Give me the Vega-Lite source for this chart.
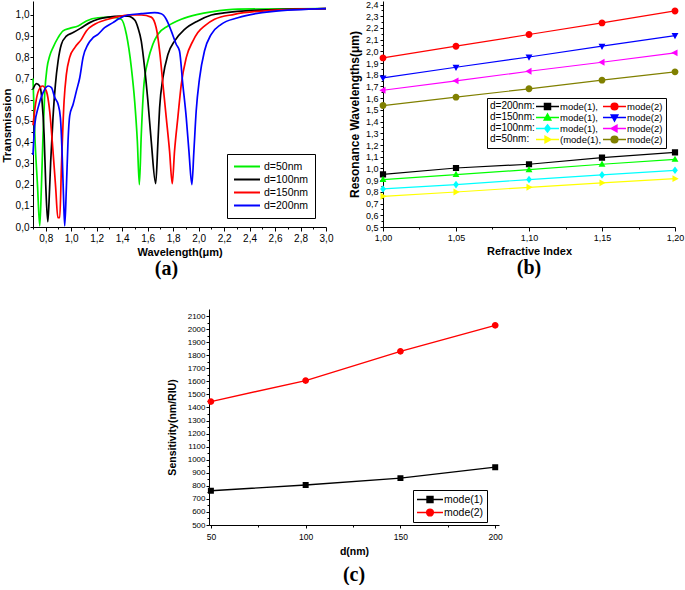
{
  "$schema": "https://vega.github.io/schema/vega-lite/v6.json",
  "padding": {"left": 1, "top": 0, "right": 0, "bottom": 0},
  "background": "white",
  "config": {
    "view": {"stroke": null},
    "axis": {"labelFont": "Liberation Sans", "titleFont": "Liberation Sans", "labelColor": "#000", "titleColor": "#000", "domainColor": "#000", "tickColor": "#000", "grid": false, "titleFontWeight": "bold", "labelFontSize": 9, "titleFontSize": 11, "tickSize": 4, "labelPadding": 2, "labelFlush": false, "labelOverlap": false},
    "legend": {"labelFont": "Liberation Sans", "titleFont": "Liberation Sans", "labelColor": "#000", "titleColor": "#000"},
    "title": {"font": "Liberation Serif", "fontSize": 20, "fontWeight": "bold", "color": "#000"}
  },
  "datasets": {
    "trans": [
      {"d":"d=50nm","wl":0.70,"T":0.70},{"d":"d=50nm","wl":0.714,"T":0.44},{"d":"d=50nm","wl":0.735,"T":0.20},{"d":"d=50nm","wl":0.753,"T":0.005},{"d":"d=50nm","wl":0.766,"T":0.19},{"d":"d=50nm","wl":0.779,"T":0.44},{"d":"d=50nm","wl":0.792,"T":0.63},{"d":"d=50nm","wl":0.81,"T":0.75},{"d":"d=50nm","wl":0.831,"T":0.807},{"d":"d=50nm","wl":0.857,"T":0.846},{"d":"d=50nm","wl":0.897,"T":0.893},{"d":"d=50nm","wl":0.936,"T":0.925},{"d":"d=50nm","wl":0.988,"T":0.937},{"d":"d=50nm","wl":1.054,"T":0.948},{"d":"d=50nm","wl":1.119,"T":0.972},{"d":"d=50nm","wl":1.21,"T":0.987},{"d":"d=50nm","wl":1.315,"T":0.99},{"d":"d=50nm","wl":1.393,"T":0.98},{"d":"d=50nm","wl":1.433,"T":0.909},{"d":"d=50nm","wl":1.472,"T":0.752},{"d":"d=50nm","wl":1.498,"T":0.594},{"d":"d=50nm","wl":1.519,"T":0.406},{"d":"d=50nm","wl":1.535,"T":0.20},{"d":"d=50nm","wl":1.55,"T":0.437},{"d":"d=50nm","wl":1.571,"T":0.673},{"d":"d=50nm","wl":1.602,"T":0.783},{"d":"d=50nm","wl":1.641,"T":0.862},{"d":"d=50nm","wl":1.681,"T":0.909},{"d":"d=50nm","wl":1.759,"T":0.948},{"d":"d=50nm","wl":1.864,"T":0.98},{"d":"d=50nm","wl":1.994,"T":1.003},{"d":"d=50nm","wl":2.1,"T":1.015},{"d":"d=50nm","wl":2.31,"T":1.028},{"d":"d=50nm","wl":3.0,"T":1.03},
      {"d":"d=100nm","wl":0.70,"T":0.65},{"d":"d=100nm","wl":0.727,"T":0.676},{"d":"d=100nm","wl":0.753,"T":0.665},{"d":"d=100nm","wl":0.771,"T":0.594},{"d":"d=100nm","wl":0.787,"T":0.437},{"d":"d=100nm","wl":0.80,"T":0.20},{"d":"d=100nm","wl":0.816,"T":0.025},{"d":"d=100nm","wl":0.826,"T":0.12},{"d":"d=100nm","wl":0.839,"T":0.31},{"d":"d=100nm","wl":0.857,"T":0.516},{"d":"d=100nm","wl":0.876,"T":0.673},{"d":"d=100nm","wl":0.897,"T":0.783},{"d":"d=100nm","wl":0.923,"T":0.862},{"d":"d=100nm","wl":0.962,"T":0.90},{"d":"d=100nm","wl":1.015,"T":0.917},{"d":"d=100nm","wl":1.08,"T":0.94},{"d":"d=100nm","wl":1.145,"T":0.964},{"d":"d=100nm","wl":1.21,"T":0.98},{"d":"d=100nm","wl":1.289,"T":0.99},{"d":"d=100nm","wl":1.393,"T":0.995},{"d":"d=100nm","wl":1.445,"T":0.995},{"d":"d=100nm","wl":1.50,"T":0.975},{"d":"d=100nm","wl":1.524,"T":0.94},{"d":"d=100nm","wl":1.55,"T":0.877},{"d":"d=100nm","wl":1.576,"T":0.752},{"d":"d=100nm","wl":1.602,"T":0.594},{"d":"d=100nm","wl":1.628,"T":0.406},{"d":"d=100nm","wl":1.663,"T":0.205},{"d":"d=100nm","wl":1.681,"T":0.406},{"d":"d=100nm","wl":1.694,"T":0.563},{"d":"d=100nm","wl":1.72,"T":0.704},{"d":"d=100nm","wl":1.759,"T":0.814},{"d":"d=100nm","wl":1.811,"T":0.877},{"d":"d=100nm","wl":1.89,"T":0.932},{"d":"d=100nm","wl":1.994,"T":0.972},{"d":"d=100nm","wl":2.1,"T":1.0},{"d":"d=100nm","wl":2.2,"T":1.01},{"d":"d=100nm","wl":2.44,"T":1.022},{"d":"d=100nm","wl":3.0,"T":1.03},
      {"d":"d=150nm","wl":0.70,"T":0.48},{"d":"d=150nm","wl":0.72,"T":0.58},{"d":"d=150nm","wl":0.745,"T":0.645},{"d":"d=150nm","wl":0.775,"T":0.665},{"d":"d=150nm","wl":0.805,"T":0.641},{"d":"d=150nm","wl":0.831,"T":0.547},{"d":"d=150nm","wl":0.857,"T":0.358},{"d":"d=150nm","wl":0.878,"T":0.186},{"d":"d=150nm","wl":0.895,"T":0.044},{"d":"d=150nm","wl":0.91,"T":0.044},{"d":"d=150nm","wl":0.923,"T":0.28},{"d":"d=150nm","wl":0.944,"T":0.594},{"d":"d=150nm","wl":0.962,"T":0.72},{"d":"d=150nm","wl":0.988,"T":0.80},{"d":"d=150nm","wl":1.028,"T":0.846},{"d":"d=150nm","wl":1.08,"T":0.885},{"d":"d=150nm","wl":1.119,"T":0.925},{"d":"d=150nm","wl":1.184,"T":0.956},{"d":"d=150nm","wl":1.289,"T":0.98},{"d":"d=150nm","wl":1.367,"T":0.992},{"d":"d=150nm","wl":1.45,"T":1.0},{"d":"d=150nm","wl":1.55,"T":1.0},{"d":"d=150nm","wl":1.628,"T":0.99},{"d":"d=150nm","wl":1.667,"T":0.94},{"d":"d=150nm","wl":1.694,"T":0.83},{"d":"d=150nm","wl":1.72,"T":0.673},{"d":"d=150nm","wl":1.746,"T":0.516},{"d":"d=150nm","wl":1.772,"T":0.358},{"d":"d=150nm","wl":1.793,"T":0.204},{"d":"d=150nm","wl":1.811,"T":0.358},{"d":"d=150nm","wl":1.837,"T":0.516},{"d":"d=150nm","wl":1.864,"T":0.673},{"d":"d=150nm","wl":1.903,"T":0.799},{"d":"d=150nm","wl":1.955,"T":0.877},{"d":"d=150nm","wl":1.994,"T":0.917},{"d":"d=150nm","wl":2.05,"T":0.95},{"d":"d=150nm","wl":2.125,"T":0.98},{"d":"d=150nm","wl":2.28,"T":1.003},{"d":"d=150nm","wl":2.57,"T":1.022},{"d":"d=150nm","wl":3.0,"T":1.03},
      {"d":"d=200nm","wl":0.70,"T":0.34},{"d":"d=200nm","wl":0.714,"T":0.484},{"d":"d=200nm","wl":0.74,"T":0.563},{"d":"d=200nm","wl":0.779,"T":0.634},{"d":"d=200nm","wl":0.818,"T":0.665},{"d":"d=200nm","wl":0.845,"T":0.657},{"d":"d=200nm","wl":0.871,"T":0.61},{"d":"d=200nm","wl":0.897,"T":0.579},{"d":"d=200nm","wl":0.915,"T":0.516},{"d":"d=200nm","wl":0.928,"T":0.358},{"d":"d=200nm","wl":0.939,"T":0.154},{"d":"d=200nm","wl":0.949,"T":0.005},{"d":"d=200nm","wl":0.962,"T":0.186},{"d":"d=200nm","wl":0.975,"T":0.406},{"d":"d=200nm","wl":0.988,"T":0.524},{"d":"d=200nm","wl":1.015,"T":0.579},{"d":"d=200nm","wl":1.041,"T":0.642},{"d":"d=200nm","wl":1.067,"T":0.704},{"d":"d=200nm","wl":1.093,"T":0.80},{"d":"d=200nm","wl":1.132,"T":0.862},{"d":"d=200nm","wl":1.171,"T":0.893},{"d":"d=200nm","wl":1.21,"T":0.909},{"d":"d=200nm","wl":1.262,"T":0.94},{"d":"d=200nm","wl":1.328,"T":0.964},{"d":"d=200nm","wl":1.367,"T":0.98},{"d":"d=200nm","wl":1.445,"T":1.0},{"d":"d=200nm","wl":1.55,"T":1.006},{"d":"d=200nm","wl":1.655,"T":1.011},{"d":"d=200nm","wl":1.707,"T":1.006},{"d":"d=200nm","wl":1.746,"T":0.98},{"d":"d=200nm","wl":1.785,"T":0.925},{"d":"d=200nm","wl":1.824,"T":0.862},{"d":"d=200nm","wl":1.85,"T":0.83},{"d":"d=200nm","wl":1.876,"T":0.673},{"d":"d=200nm","wl":1.903,"T":0.516},{"d":"d=200nm","wl":1.924,"T":0.358},{"d":"d=200nm","wl":1.947,"T":0.20},{"d":"d=200nm","wl":1.963,"T":0.358},{"d":"d=200nm","wl":1.981,"T":0.547},{"d":"d=200nm","wl":2.007,"T":0.70},{"d":"d=200nm","wl":2.046,"T":0.83},{"d":"d=200nm","wl":2.099,"T":0.909},{"d":"d=200nm","wl":2.177,"T":0.956},{"d":"d=200nm","wl":2.308,"T":0.987},{"d":"d=200nm","wl":2.569,"T":1.016},{"d":"d=200nm","wl":3.0,"T":1.03}
    ],
    "res": [
      {"s":"d=200nm mode(1)","n":1.00,"w":0.950},{"s":"d=200nm mode(1)","n":1.05,"w":1.004},{"s":"d=200nm mode(1)","n":1.10,"w":1.036},{"s":"d=200nm mode(1)","n":1.15,"w":1.093},{"s":"d=200nm mode(1)","n":1.20,"w":1.138},
      {"s":"d=200nm mode(2)","n":1.00,"w":1.944},{"s":"d=200nm mode(2)","n":1.05,"w":2.044},{"s":"d=200nm mode(2)","n":1.10,"w":2.144},{"s":"d=200nm mode(2)","n":1.15,"w":2.243},{"s":"d=200nm mode(2)","n":1.20,"w":2.345},
      {"s":"d=150nm mode(1)","n":1.00,"w":0.905},{"s":"d=150nm mode(1)","n":1.05,"w":0.948},{"s":"d=150nm mode(1)","n":1.10,"w":0.990},{"s":"d=150nm mode(1)","n":1.15,"w":1.036},{"s":"d=150nm mode(1)","n":1.20,"w":1.078},
      {"s":"d=150nm mode(2)","n":1.00,"w":1.773},{"s":"d=150nm mode(2)","n":1.05,"w":1.864},{"s":"d=150nm mode(2)","n":1.10,"w":1.952},{"s":"d=150nm mode(2)","n":1.15,"w":2.044},{"s":"d=150nm mode(2)","n":1.20,"w":2.135},
      {"s":"d=100nm mode(1)","n":1.00,"w":0.825},{"s":"d=100nm mode(1)","n":1.05,"w":0.862},{"s":"d=100nm mode(1)","n":1.10,"w":0.905},{"s":"d=100nm mode(1)","n":1.15,"w":0.945},{"s":"d=100nm mode(1)","n":1.20,"w":0.984},
      {"s":"d=100nm mode(2)","n":1.00,"w":1.668},{"s":"d=100nm mode(2)","n":1.05,"w":1.748},{"s":"d=100nm mode(2)","n":1.10,"w":1.830},{"s":"d=100nm mode(2)","n":1.15,"w":1.907},{"s":"d=100nm mode(2)","n":1.20,"w":1.987},
      {"s":"d=50nm mode(1)","n":1.00,"w":0.762},{"s":"d=50nm mode(1)","n":1.05,"w":0.799},{"s":"d=50nm mode(1)","n":1.10,"w":0.839},{"s":"d=50nm mode(1)","n":1.15,"w":0.877},{"s":"d=50nm mode(1)","n":1.20,"w":0.913},
      {"s":"d=50nm mode(2)","n":1.00,"w":1.537},{"s":"d=50nm mode(2)","n":1.05,"w":1.609},{"s":"d=50nm mode(2)","n":1.10,"w":1.680},{"s":"d=50nm mode(2)","n":1.15,"w":1.754},{"s":"d=50nm mode(2)","n":1.20,"w":1.825}
    ],
    "sens": [
      {"m":"mode(1)","d":50,"S":762},{"m":"mode(1)","d":100,"S":806},{"m":"mode(1)","d":150,"S":859},{"m":"mode(1)","d":200,"S":943},
      {"m":"mode(2)","d":50,"S":1445},{"m":"mode(2)","d":100,"S":1606},{"m":"mode(2)","d":150,"S":1830},{"m":"mode(2)","d":200,"S":2029}
    ],
    "blank": [{"k": 0}]
  },
  "spacing": 30,
  "resolve": {"scale": {"color": "independent", "shape": "independent", "stroke": "independent"}, "legend": {"color": "independent", "shape": "independent", "stroke": "independent"}},
  "vconcat": [
    {
      "spacing": 57,
      "bounds": "flush",
      "resolve": {"scale": {"color": "independent", "shape": "independent", "stroke": "independent"}, "legend": {"color": "independent", "shape": "independent", "stroke": "independent"}},
      "hconcat": [
        {
          "width": 293, "height": 226,
          "title": {"text": "(a)", "orient": "bottom", "offset": 2, "dx": -13},
          "data": {"name": "trans"},
          "layer": [
            {
              "mark": {"type": "line", "strokeWidth": 1.7, "interpolate": "monotone"},
              "encoding": {
                "x": {"field": "wl", "type": "quantitative", "scale": {"domain": [0.7, 3.0], "nice": false, "zero": false},
                  "axis": {"orient": "bottom", "title": "Wavelength(μm)", "values": [0.8,1.0,1.2,1.4,1.6,1.8,2.0,2.2,2.4,2.6,2.8,3.0], "labelExpr": "replace(format(datum.value, '.1f'), '.', ',')", "labelFontSize": 10, "tickSize": 4, "titlePadding": 3}},
                "y": {"field": "T", "type": "quantitative", "scale": {"domain": [0, 1.066], "nice": false, "zero": false},
                  "axis": {"orient": "left", "title": "Transmission", "values": [0,0.1,0.2,0.3,0.4,0.5,0.6,0.7,0.8,0.9,1.0], "labelExpr": "replace(format(datum.value, '.1f'), '.', ',')", "labelFontSize": 10, "tickSize": 3, "labelPadding": 1, "titlePadding": 3, "titleFontSize": 11.5, "titleY": 124}},
                "color": {"field": "d", "type": "nominal", "scale": {"domain": ["d=50nm","d=100nm","d=150nm","d=200nm"], "range": ["#00ee00","#000000","#ff0000","#0000ff"]},
                  "legend": {"title": null, "orient": "none", "legendX": 194, "legendY": 153, "strokeColor": "#000", "padding": 6, "symbolType": "stroke", "symbolSize": 676, "symbolStrokeWidth": 2, "labelFontSize": 10.5, "labelOffset": 3, "clipHeight": 13, "rowPadding": 0}}
              }
            },
            {
              "mark": {"type": "point", "opacity": 0},
              "encoding": {
                "x": {"field": "wl", "type": "quantitative", "scale": {"domain": [0.7, 3.0], "nice": false, "zero": false},
                  "axis": {"orient": "bottom", "title": null, "labels": false, "domain": false, "tickSize": 2, "values": [0.7,0.9,1.1,1.3,1.5,1.7,1.9,2.1,2.3,2.5,2.7,2.9]}},
                "y": {"field": "T", "type": "quantitative", "scale": {"domain": [0, 1.066], "nice": false, "zero": false},
                  "axis": {"orient": "left", "title": null, "labels": false, "domain": false, "tickSize": 2, "values": [0.05,0.15,0.25,0.35,0.45,0.55,0.65,0.75,0.85,0.95]}}
              }
            }
          ],
          "resolve": {"axis": {"x": "independent", "y": "independent"}}
        },
        {
          "width": 292, "height": 226,
          "title": {"text": "(b)", "orient": "bottom", "offset": 2},
          "data": {"name": "res"},
          "layer": [
            {
              "mark": {"type": "line", "strokeWidth": 1.2},
              "encoding": {
                "x": {"field": "n", "type": "quantitative", "scale": {"domain": [1.0, 1.2], "nice": false, "zero": false},
                  "axis": {"orient": "bottom", "title": "Refractive Index", "values": [1.0,1.05,1.1,1.15,1.2], "labelExpr": "replace(format(datum.value, '.2f'), '.', ',')", "tickSize": 4, "titlePadding": 3}},
                "y": {"field": "w", "type": "quantitative", "scale": {"domain": [0.5, 2.43], "nice": false, "zero": false},
                  "axis": {"orient": "left", "title": "Resonance Wavelengths(μm)", "values": [0.5,0.6,0.7,0.8,0.9,1.0,1.1,1.2,1.3,1.4,1.5,1.6,1.7,1.8,1.9,2.0,2.1,2.2,2.3,2.4], "labelExpr": "replace(format(datum.value, '.1f'), '.', ',')", "tickSize": 3, "labelPadding": 2, "titlePadding": 4, "titleFontSize": 12}},
                "color": {"field": "s", "type": "nominal", "scale": {"domain": ["d=200nm mode(1)","d=150nm mode(1)","d=100nm mode(1)","d=50nm mode(1)","d=200nm mode(2)","d=150nm mode(2)","d=100nm mode(2)","d=50nm mode(2)"], "range": ["#000000","#00ff00","#00ffff","#ffff00","#ff0000","#0000ff","#ff00ff","#808000"]},
                  "legend": {"title": ["d=200nm:","d=150nm:","d=100nm:","d=50nm:"], "titleOrient": "left", "titleFontSize": 10, "titleFontWeight": "normal", "titleLineHeight": 11, "titleAnchor": "start", "titleBaseline": "top", "titlePadding": 0, "orient": "none", "legendX": 104, "legendY": 97, "strokeColor": "#000", "padding": 3, "columns": 2, "columnPadding": 0, "rowPadding": 0, "symbolSize": 529, "symbolStrokeWidth": 1.3, "clipHeight": 11, "labelFontSize": 9.5, "labelOffset": 0,
                    "labelExpr": "datum.index == 3 ? '(mode(1),' : (datum.index < 4 ? 'mode(1),' : 'mode(2)')"}}
              }
            },
            {
              "mark": {"type": "point", "filled": true, "size": 529, "opacity": 1, "strokeWidth": 0},
              "encoding": {
                "x": {"field": "n", "type": "quantitative", "axis": null},
                "y": {"field": "w", "type": "quantitative", "axis": null},
                "color": {"field": "s", "type": "nominal"},
                "stroke": {"field": "s", "type": "nominal", "scale": {"domain": ["d=200nm mode(1)","d=150nm mode(1)","d=100nm mode(1)","d=50nm mode(1)","d=200nm mode(2)","d=150nm mode(2)","d=100nm mode(2)","d=50nm mode(2)"], "range": ["#000000","#00ff00","#00ffff","#ffff00","#ff0000","#0000ff","#ff00ff","#808000"]}},
                "shape": {"field": "s", "type": "nominal", "scale": {"domain": ["d=200nm mode(1)","d=150nm mode(1)","d=100nm mode(1)","d=50nm mode(1)","d=200nm mode(2)","d=150nm mode(2)","d=100nm mode(2)","d=50nm mode(2)"], "range": ["M-1,0H1M-0.27,-0.27H0.27V0.27H-0.27Z","M-1,0H1M0,-0.32L0.3,0.22H-0.3Z","M-1,0H1M0,-0.33L0.25,0L0,0.33L-0.25,0Z","M-1,0H1M0.32,0L-0.22,-0.3V0.3Z","M-1,0H1M0.3,0A0.3,0.3,0,1,1,-0.3,0A0.3,0.3,0,1,1,0.3,0Z","M-1,0H1M0,0.32L0.3,-0.22H-0.3Z","M-1,0H1M-0.32,0L0.22,-0.3V0.3Z","M-1,0H1M0.3,0A0.3,0.3,0,1,1,-0.3,0A0.3,0.3,0,1,1,0.3,0Z"]}}
              }
            },
            {
              "mark": {"type": "point", "opacity": 0},
              "encoding": {
                "x": {"field": "n", "type": "quantitative",
                  "axis": {"orient": "bottom", "title": null, "labels": false, "domain": false, "tickSize": 2, "values": [1.025,1.075,1.125,1.175]}},
                "y": {"field": "w", "type": "quantitative",
                  "axis": {"orient": "left", "title": null, "labels": false, "domain": false, "tickSize": 2, "values": [0.55,0.65,0.75,0.85,0.95,1.05,1.15,1.25,1.35,1.45,1.55,1.65,1.75,1.85,1.95,2.05,2.15,2.25,2.35]}}
              }
            }
          ],
          "resolve": {"axis": {"x": "independent", "y": "independent"}}
        }
      ]
    },
    {
      "spacing": 0,
      "bounds": "flush",
      "resolve": {"scale": {"color": "independent", "shape": "independent", "stroke": "independent"}, "legend": {"color": "independent", "shape": "independent", "stroke": "independent"}},
      "hconcat": [
        {
          "width": 176, "height": 10,
          "view": {"fill": "white", "stroke": null},
          "data": {"name": "blank"},
          "mark": {"type": "point", "opacity": 0, "size": 0}
        },
        {
          "width": 290, "height": 216,
          "title": {"text": "(c)", "orient": "bottom", "offset": 8},
          "data": {"name": "sens"},
          "layer": [
            {
              "mark": {"type": "line", "strokeWidth": 1.4},
              "encoding": {
                "x": {"field": "d", "type": "quantitative", "scale": {"domain": [49, 202], "nice": false, "zero": false},
                  "axis": {"orient": "bottom", "title": "d(nm)", "values": [50,100,150,200], "labelFontSize": 8.5, "tickSize": 3, "labelPadding": 4, "titlePadding": 6, "titleFontSize": 10.5}},
                "y": {"field": "S", "type": "quantitative", "scale": {"domain": [500, 2154], "nice": false, "zero": false},
                  "axis": {"orient": "left", "title": "Sensitivity(nm/RIU)", "format": "d", "values": [500,600,700,800,900,1000,1100,1200,1300,1400,1500,1600,1700,1800,1900,2000,2100], "labelFontSize": 8, "tickSize": 3, "labelPadding": 1, "titlePadding": 10, "titleFontSize": 10.5, "titleY": 118}},
                "color": {"field": "m", "type": "nominal", "scale": {"domain": ["mode(1)","mode(2)"], "range": ["#000000","#ff0000"]},
                  "legend": {"title": null, "orient": "none", "legendX": 204, "legendY": 181, "strokeColor": "#000", "padding": 3, "symbolSize": 676, "symbolStrokeWidth": 1.4, "clipHeight": 13, "rowPadding": 0, "labelFontSize": 10.5, "labelOffset": 0}}
              }
            },
            {
              "mark": {"type": "point", "filled": true, "size": 676, "opacity": 1, "strokeWidth": 0},
              "encoding": {
                "x": {"field": "d", "type": "quantitative", "axis": null},
                "y": {"field": "S", "type": "quantitative", "axis": null},
                "color": {"field": "m", "type": "nominal"},
                "stroke": {"field": "m", "type": "nominal", "scale": {"domain": ["mode(1)","mode(2)"], "range": ["#000000","#ff0000"]}},
                "shape": {"field": "m", "type": "nominal", "scale": {"domain": ["mode(1)","mode(2)"], "range": ["M-1,0H1M-0.23,-0.23H0.23V0.23H-0.23Z","M-1,0H1M0.26,0A0.26,0.26,0,1,1,-0.26,0A0.26,0.26,0,1,1,0.26,0Z"]}}
              }
            },
            {
              "mark": {"type": "point", "opacity": 0},
              "encoding": {
                "x": {"field": "d", "type": "quantitative",
                  "axis": {"orient": "bottom", "title": null, "labels": false, "domain": false, "tickSize": 2, "values": [75,125,175]}},
                "y": {"field": "S", "type": "quantitative",
                  "axis": {"orient": "left", "title": null, "labels": false, "domain": false, "tickSize": 2, "values": [550,650,750,850,950,1050,1150,1250,1350,1450,1550,1650,1750,1850,1950,2050]}}
              }
            }
          ],
          "resolve": {"axis": {"x": "independent", "y": "independent"}}
        }
      ]
    }
  ]
}
